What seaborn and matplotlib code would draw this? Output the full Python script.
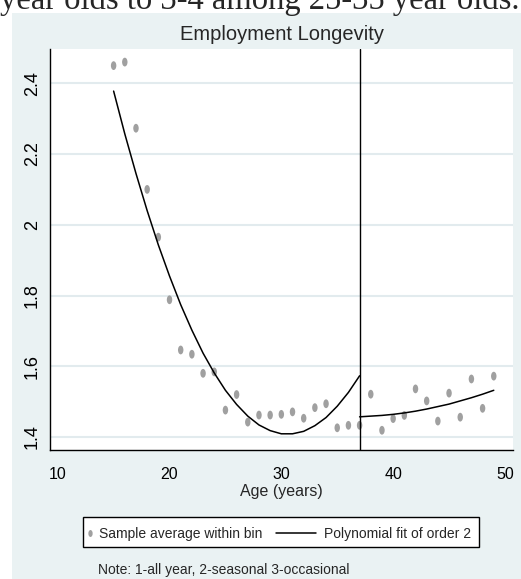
import numpy as np
import pandas as pd
import matplotlib
matplotlib.use("Agg")
import matplotlib.pyplot as plt
import seaborn as sns
from matplotlib.path import Path
from matplotlib.transforms import Affine2D
from matplotlib.lines import Line2D
from matplotlib.patches import Rectangle

# ---------------- data ----------------
ages = [15, 16, 17, 18, 19, 20, 21, 22, 23, 24, 25, 26, 27, 28, 29, 30, 31, 32,
        33, 34, 35, 36, 37, 38, 39, 40, 41, 42, 43, 44, 45, 46, 47, 48, 49]
longevity = [2.450, 2.460, 2.273, 2.100, 1.965, 1.788, 1.646, 1.634, 1.580, 1.584,
             1.476, 1.520, 1.442, 1.462, 1.462, 1.464, 1.471, 1.453, 1.483, 1.494,
             1.426, 1.433, 1.433, 1.521, 1.419, 1.452, 1.461, 1.536, 1.502, 1.445,
             1.524, 1.456, 1.564, 1.481, 1.572]
cutoff = 37

# polynomial-fit lines at each age
fit_left_ages = [15, 16, 17, 18, 19, 20, 21, 22, 23, 24, 25, 26, 27, 28, 29, 30,
                 31, 32, 33, 34, 35, 36, 37]
fit_left_values = [2.378, 2.257, 2.145, 2.040, 1.943, 1.855, 1.774, 1.702, 1.637,
                   1.581, 1.532, 1.492, 1.459, 1.434, 1.418, 1.409, 1.409, 1.416,
                   1.432, 1.455, 1.487, 1.526, 1.573]
fit_right_ages = [37, 38, 39, 40, 41, 42, 43, 44, 45, 46, 47, 48, 49]
fit_right_values = [1.457, 1.459, 1.461, 1.464, 1.468, 1.473, 1.479, 1.486, 1.493,
                    1.502, 1.511, 1.521, 1.532]

x_ticks = [10, 20, 30, 40, 50]
y_ticks = [1.4, 1.6, 1.8, 2.0, 2.2, 2.4]
y_tick_labels = ["1.4", "1.6", "1.8", "2", "2.2", "2.4"]
title = "Employment Longevity"
x_label = "Age (years)"
legend_labels = ["Sample average within bin", "Polynomial fit of order 2"]
note = "Note: 1-all year, 2-seasonal 3-occasional"
doc_text = "year olds to 3-4 among 25-35 year olds."

df = pd.DataFrame({"age": ages, "longevity": longevity})
fit_left = pd.DataFrame({"age": fit_left_ages, "fit": fit_left_values})
fit_right = pd.DataFrame({"age": fit_right_ages, "fit": fit_right_values})

# ---------------- style ----------------
sns.set_style("white")
plt.rcParams["font.family"] = ["Liberation Sans Narrow", "Liberation Sans", "DejaVu Sans"]

W, H = 521, 579
BG = "#EAF2F3"
GRID = "#E2EBEE"
GRAY = "#A0A0A0"

fig = plt.figure(figsize=(W / 100, H / 100), dpi=100)
fig.patch.set_facecolor("white")
fig.add_artist(Rectangle((12 / W, 0), 1 - 12 / W, 1 - 13 / H, transform=fig.transFigure,
                         facecolor=BG, edgecolor="none", zorder=0))

ax = fig.add_axes([50 / W, 1 - 450 / H, 463 / W, 401 / H])
ax.set_facecolor("white")

ell = Path.unit_circle().transformed(Affine2D().scale(0.62, 1.0))

sns.scatterplot(data=df, x="age", y="longevity", ax=ax, marker=ell, s=40,
                color=GRAY, edgecolor="none", linewidth=0, zorder=3)
sns.lineplot(data=fit_left, x="age", y="fit", ax=ax, color="black", lw=1.1, zorder=4)
sns.lineplot(data=fit_right, x="age", y="fit", ax=ax, color="black", lw=1.1, zorder=4)
ax.axvline(cutoff, color="black", lw=1, zorder=4)

ax.set_xlim(9.31, 50.72)
ax.set_ylim(1.3632, 2.497)
ax.set_xticks(x_ticks)
ax.set_xticklabels([str(t) for t in x_ticks])
ax.set_yticks(y_ticks)
ax.set_yticklabels(y_tick_labels)
ax.tick_params(axis="both", direction="out", length=4.5, width=0.8, color="#444",
               labelcolor="black")
ax.tick_params(axis="y", pad=2, labelsize=13)
ax.tick_params(axis="x", pad=8, labelsize=11.5)
for lab in ax.get_yticklabels():
    lab.set_rotation(90)
    lab.set_va("center")

ax.yaxis.grid(True, color=GRID, lw=1.5)
ax.xaxis.grid(False)
ax.set_axisbelow(True)
for s in ["top", "right"]:
    ax.spines[s].set_visible(False)
for s in ["left", "bottom"]:
    ax.spines[s].set_color("black")
    ax.spines[s].set_linewidth(1)

ax.set_xlabel(x_label, fontsize=11.5, labelpad=1)
ax.set_ylabel("")

# document text cut at the top, and the title
fig.text(0 / W, 1 - 9 / H, doc_text, family=["Liberation Serif", "DejaVu Serif"],
         fontsize=23.5, ha="left", va="baseline", zorder=5)
fig.text(281.5 / W, 1 - 40 / H, title, ha="center", va="baseline", fontsize=14.5)

# legend
fig.add_artist(Rectangle((83.3 / W, 1 - 547 / H), 396 / W, 30 / H, transform=fig.transFigure,
                         facecolor="white", edgecolor="black", lw=1, zorder=1))
h1 = Line2D([], [], ls="none", marker=ell, ms=5, color=GRAY, mec="none")
h2 = Line2D([], [], color="black", lw=1.1)
fig.legend(handles=[h1], labels=[legend_labels[0]], loc="center left",
           bbox_to_anchor=(87 / W, 1 - 534 / H), frameon=False, handlelength=0.45,
           handletextpad=0.43, borderpad=0, borderaxespad=0, fontsize=10)
fig.legend(handles=[h2], labels=[legend_labels[1]], loc="center left",
           bbox_to_anchor=(276 / W, 1 - 534 / H), frameon=False, handlelength=2.88,
           handletextpad=0.58, borderpad=0, borderaxespad=0, fontsize=10)

fig.text(98 / W, 1 - 570 / H, note, ha="left", va="center", fontsize=10)

fig.savefig("out.png", dpi=100)
